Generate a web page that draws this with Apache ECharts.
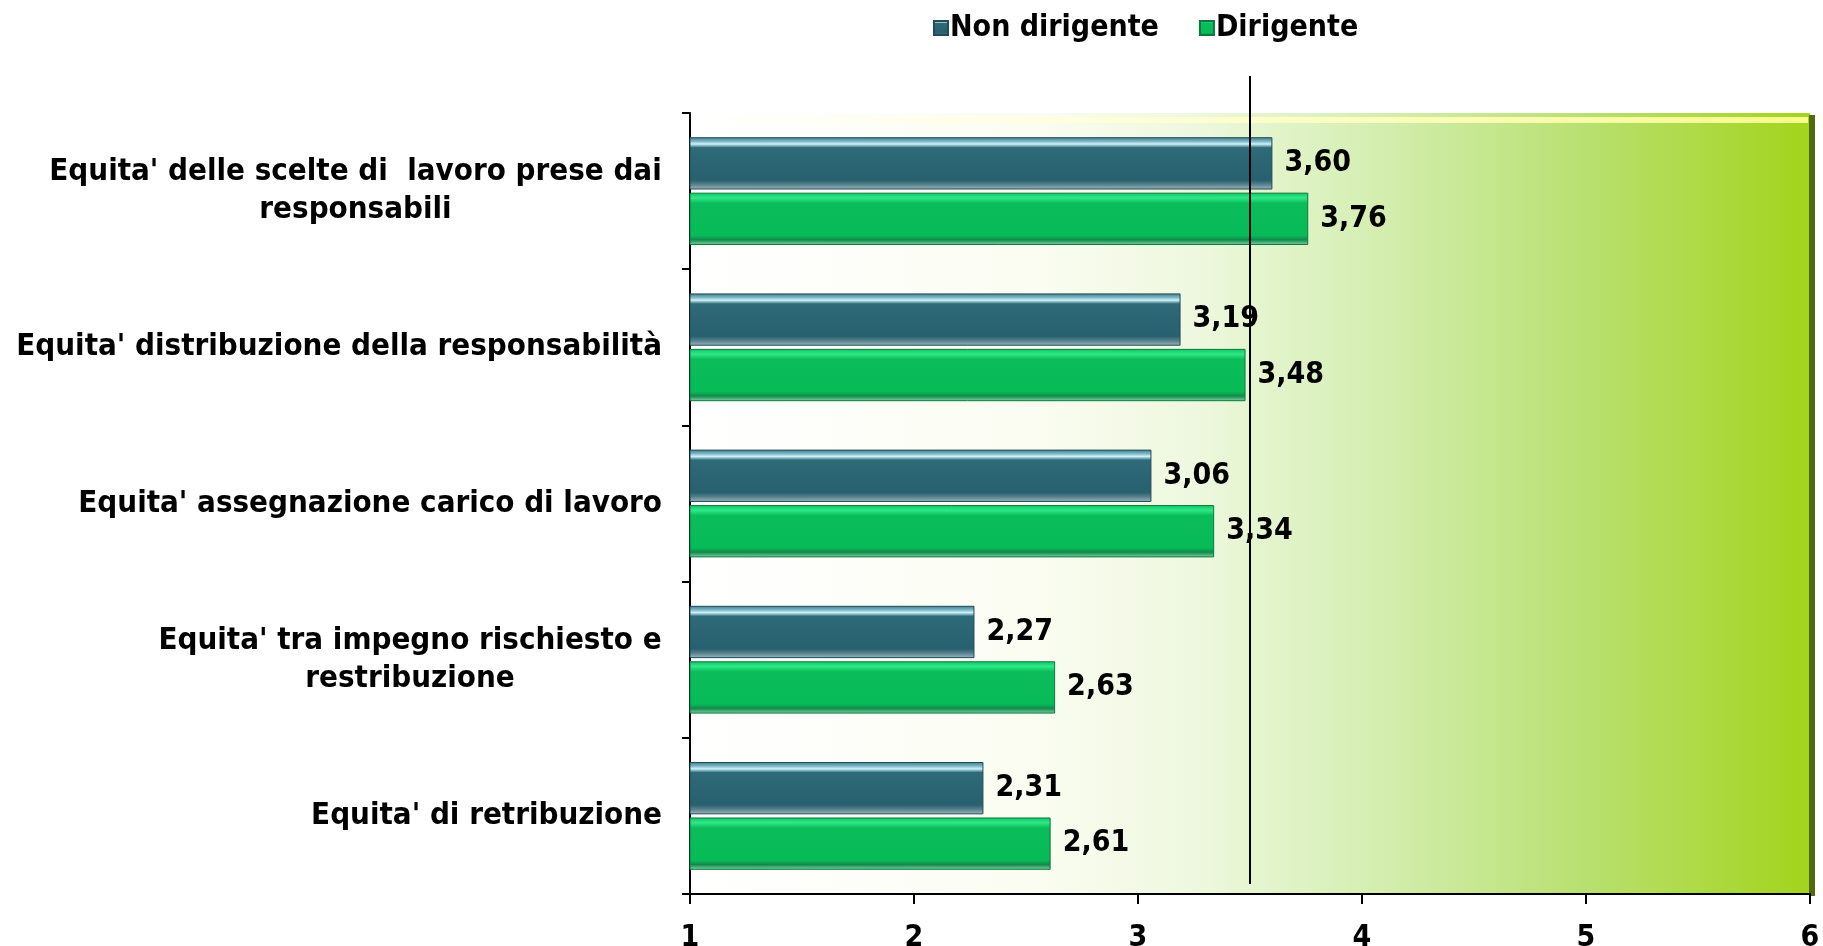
<!DOCTYPE html>
<html>
<head>
<meta charset="utf-8">
<title>Equità</title>
<script src="https://cdn.jsdelivr.net/npm/echarts@6/dist/echarts.min.js"></script>
<style>
  html, body { margin: 0; padding: 0; background: #ffffff; }
  #main { width: 1823px; height: 946px; }
</style>
</head>
<body>
<div id="main"></div>
<script>
// categorie dall'alto verso il basso
const categories = [
  "Equita' delle scelte di  lavoro prese dai\nresponsabili",
  "Equita' distribuzione della responsabilità",
  "Equita' assegnazione carico di lavoro",
  "Equita' tra impegno rischiesto e\nrestribuzione",
  "Equita' di retribuzione"
];
const nonDirigente = [3.60, 3.19, 3.06, 2.27, 2.31];
const dirigente = [3.76, 3.48, 3.34, 2.63, 2.61];
const xTicks = [1, 2, 3, 4, 5, 6];
const soglia = 3.5;

const FONT = "'DejaVu Sans Condensed', 'DejaVu Sans', sans-serif";
const FS = 30;      // valori, legenda, assi
const FS_CAT = 31;  // etichette categorie

// larghezza della riga più lunga, per centrare le righe delle etichette a capo
const ctx = document.createElement('canvas').getContext('2d');
ctx.font = 'bold ' + FS_CAT + 'px ' + FONT;
function lineWidth(s) { return Math.ceil(ctx.measureText(s).width); }

const rich = {};
categories.forEach((c, i) => {
  const lines = c.split('\n');
  if (lines.length > 1) {
    rich['c' + i] = {
      width: Math.max(...lines.map(lineWidth)),
      align: 'center',
      fontWeight: 'bold',
      fontSize: FS_CAT,
      fontFamily: FONT,
      color: '#000',
      lineHeight: 38
    };
  }
});

function fmtVal(p) { return p.value.toFixed(2).replace('.', ','); }

const chart = echarts.init(document.getElementById('main'));
const option = {
  backgroundColor: '#ffffff',
  animation: false,
  legend: {
    data: ['Non dirigente', 'Dirigente'],
    left: 928,
    top: 8,
    itemWidth: 14,
    itemHeight: 14,
    itemGap: 40,
    icon: 'rect',
    textStyle: { fontFamily: FONT, fontWeight: 'bold', fontSize: FS, color: '#000', padding: [0, 0, 0, -3] }
  },
  grid: {
    left: 690,
    right: 13,
    top: 113,
    bottom: 52,
    outerBoundsMode: 'none',
    containLabel: false,
    show: true,
    borderWidth: 0,
    backgroundColor: new echarts.graphic.LinearGradient(0, 0, 1, 0, [
      { offset: 0, color: '#ffffff' },
      { offset: 0.3, color: '#fbfdf2' },
      { offset: 0.45, color: '#eef8df' },
      { offset: 0.6, color: '#d6efb5' },
      { offset: 0.8, color: '#b8e070' },
      { offset: 1, color: '#a2d41c' }
    ])
  },
  xAxis: {
    type: 'value',
    min: 1,
    max: 6,
    interval: 1,
    axisLine: { show: true, lineStyle: { color: '#000', width: 2 } },
    axisTick: { show: true, length: 10, lineStyle: { color: '#000', width: 2 } },
    splitLine: { show: false },
    axisLabel: {
      margin: 29,
      fontFamily: FONT, fontWeight: 'bold', fontSize: FS, color: '#000',
      formatter: v => xTicks.includes(v) ? String(v) : ''
    }
  },
  yAxis: {
    type: 'category',
    inverse: true,
    data: categories,
    axisLine: { show: true, lineStyle: { color: '#000', width: 2 } },
    axisTick: { show: true, length: 8, lineStyle: { color: '#000', width: 2 } },
    axisLabel: {
      margin: 28,
      fontFamily: FONT, fontWeight: 'bold', fontSize: FS_CAT, color: '#000',
      lineHeight: 38,
      rich: rich,
      formatter: (v, i) => {
        const lines = v.split('\n');
        if (lines.length > 1) return lines.map(l => '{c' + i + '|' + l + '}').join('\n');
        return v;
      }
    }
  },
  series: [
    {
      name: 'Non dirigente',
      type: 'bar',
      data: nonDirigente,
      barCategoryGap: '31%',
      barGap: '6%',
      itemStyle: {
        color: new echarts.graphic.LinearGradient(0, 0, 0, 1, [
          { offset: 0, color: '#3f7a88' },
          { offset: 0.08, color: '#7fb8c6' },
          { offset: 0.13, color: '#cdf4fb' },
          { offset: 0.2, color: '#2f6a78' },
          { offset: 0.82, color: '#27606e' },
          { offset: 0.9, color: '#557f8a' },
          { offset: 1, color: '#9fb8c0' }
        ]),
        borderColor: '#1f4d58',
        borderWidth: 1
      },
      label: {
        show: true,
        position: 'right',
        distance: 12,
        fontFamily: FONT, fontWeight: 'bold', fontSize: FS, color: '#000',
        formatter: fmtVal
      }
    },
    {
      name: 'Dirigente',
      type: 'bar',
      data: dirigente,
      itemStyle: {
        color: new echarts.graphic.LinearGradient(0, 0, 0, 1, [
          { offset: 0, color: '#0fc461' },
          { offset: 0.1, color: '#2ee888' },
          { offset: 0.2, color: '#0bbd5a' },
          { offset: 0.82, color: '#07bb57' },
          { offset: 0.9, color: '#12884a' },
          { offset: 1, color: '#7fd8a6' }
        ]),
        borderColor: '#0a7a3c',
        borderWidth: 1
      },
      label: {
        show: true,
        position: 'right',
        distance: 12,
        fontFamily: FONT, fontWeight: 'bold', fontSize: FS, color: '#000',
        formatter: fmtVal
      }
    }
  ]
};
chart.setOption(option);

// linea verticale di riferimento a 3,5 (sporge sopra l'area del grafico)
const gridRect = chart.getModel().getComponent('grid').coordinateSystem.getRect();
const xs = chart.convertToPixel({ xAxisIndex: 0 }, soglia);
chart.setOption({
  graphic: [
    // bordo 3D dell'area del grafico
    {
      type: 'rect', silent: true, z: 0,
      shape: { x: gridRect.x + gridRect.width - 1, y: gridRect.y + 2, width: 6, height: gridRect.height },
      style: { fill: '#4f6a10' }
    },
    {
      type: 'rect', silent: true, z: 0,
      shape: { x: gridRect.x + 6, y: gridRect.y + 4, width: gridRect.width - 8, height: 6 },
      style: { fill: new echarts.graphic.LinearGradient(0, 0, 1, 0, [
        { offset: 0, color: 'rgba(255,255,255,0.9)' },
        { offset: 1, color: 'rgba(255,255,150,0.9)' }
      ]) }
    },
    {
      type: 'line', silent: true, z: 10,
      shape: { x1: xs, y1: gridRect.y - 37, x2: xs, y2: gridRect.y + gridRect.height - 10 },
      style: { stroke: '#000', lineWidth: 2 }
    }
  ]
});
</script>
</body>
</html>
